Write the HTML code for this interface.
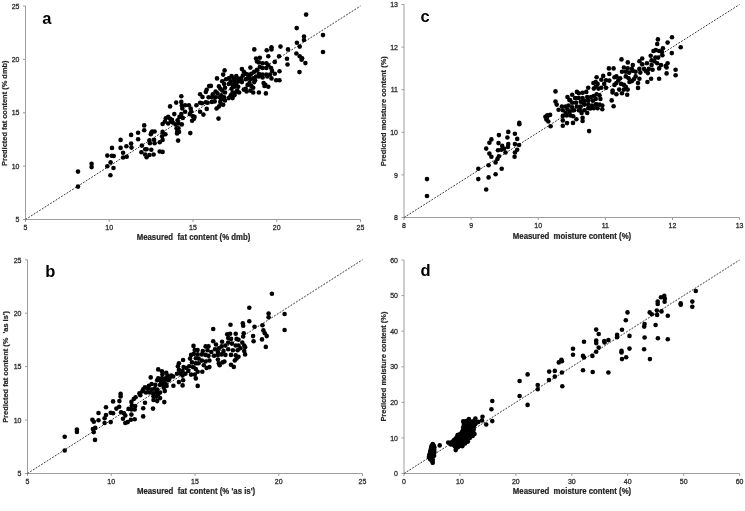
<!DOCTYPE html><html><head><meta charset="utf-8"><style>html,body{margin:0;padding:0;background:#fff;}svg{display:block;filter:blur(0.3px)}text{font-family:"Liberation Sans",sans-serif;}</style></head><body>
<svg width="745" height="511" viewBox="0 0 745 511">
<g><path d="M25.5 6.0V219.5H360.5" fill="none" stroke="#9d9d9d" stroke-width="1"/><path d="M23.0 219.5H25.5" stroke="#9d9d9d" stroke-width="1"/><text transform="translate(19.50 222.20) scale(0.92 1.0)" font-size="7.6" stroke="#303030" stroke-width="0.3" text-anchor="end" fill="#262626">5</text><path d="M23.0 166.1H25.5" stroke="#9d9d9d" stroke-width="1"/><text transform="translate(19.50 168.82) scale(0.92 1.0)" font-size="7.6" stroke="#303030" stroke-width="0.3" text-anchor="end" fill="#262626">10</text><path d="M23.0 112.8H25.5" stroke="#9d9d9d" stroke-width="1"/><text transform="translate(19.50 115.45) scale(0.92 1.0)" font-size="7.6" stroke="#303030" stroke-width="0.3" text-anchor="end" fill="#262626">15</text><path d="M23.0 59.4H25.5" stroke="#9d9d9d" stroke-width="1"/><text transform="translate(19.50 62.08) scale(0.92 1.0)" font-size="7.6" stroke="#303030" stroke-width="0.3" text-anchor="end" fill="#262626">20</text><path d="M23.0 6.0H25.5" stroke="#9d9d9d" stroke-width="1"/><text transform="translate(19.50 8.70) scale(0.92 1.0)" font-size="7.6" stroke="#303030" stroke-width="0.3" text-anchor="end" fill="#262626">25</text><path d="M25.5 219.5V222.0" stroke="#9d9d9d" stroke-width="1"/><text transform="translate(25.50 229.80) scale(0.92 1.0)" font-size="7.6" stroke="#303030" stroke-width="0.3" text-anchor="middle" fill="#262626">5</text><path d="M109.2 219.5V222.0" stroke="#9d9d9d" stroke-width="1"/><text transform="translate(109.25 229.80) scale(0.92 1.0)" font-size="7.6" stroke="#303030" stroke-width="0.3" text-anchor="middle" fill="#262626">10</text><path d="M193.0 219.5V222.0" stroke="#9d9d9d" stroke-width="1"/><text transform="translate(193.00 229.80) scale(0.92 1.0)" font-size="7.6" stroke="#303030" stroke-width="0.3" text-anchor="middle" fill="#262626">15</text><path d="M276.8 219.5V222.0" stroke="#9d9d9d" stroke-width="1"/><text transform="translate(276.75 229.80) scale(0.92 1.0)" font-size="7.6" stroke="#303030" stroke-width="0.3" text-anchor="middle" fill="#262626">20</text><path d="M360.5 219.5V222.0" stroke="#9d9d9d" stroke-width="1"/><text transform="translate(360.50 229.80) scale(0.92 1.0)" font-size="7.6" stroke="#303030" stroke-width="0.3" text-anchor="middle" fill="#262626">25</text><path d="M25.5 219.5L360.5 6.0" stroke="#3a3a3a" stroke-width="1" stroke-dasharray="1.9 1.35"/><circle cx="78.0" cy="186.6" r="2.3"/><circle cx="78.0" cy="171.6" r="2.3"/><circle cx="91.6" cy="163.8" r="2.3"/><circle cx="91.6" cy="167.1" r="2.3"/><circle cx="107.3" cy="155.6" r="2.3"/><circle cx="111.8" cy="155.8" r="2.3"/><circle cx="113.7" cy="156.0" r="2.3"/><circle cx="110.6" cy="162.4" r="2.3"/><circle cx="107.3" cy="166.2" r="2.3"/><circle cx="113.5" cy="168.0" r="2.3"/><circle cx="110.4" cy="175.3" r="2.3"/><circle cx="123.1" cy="152.8" r="2.3"/><circle cx="123.1" cy="157.5" r="2.3"/><circle cx="126.7" cy="156.7" r="2.3"/><circle cx="131.1" cy="134.9" r="2.3"/><circle cx="138.1" cy="132.8" r="2.3"/><circle cx="138.1" cy="139.3" r="2.3"/><circle cx="120.6" cy="139.9" r="2.3"/><circle cx="131.1" cy="143.6" r="2.3"/><circle cx="126.4" cy="146.2" r="2.3"/><circle cx="131.5" cy="147.6" r="2.3"/><circle cx="112.0" cy="147.9" r="2.3"/><circle cx="120.6" cy="147.9" r="2.3"/><circle cx="144.2" cy="125.4" r="2.3"/><circle cx="144.2" cy="130.3" r="2.3"/><circle cx="152.2" cy="131.5" r="2.3"/><circle cx="154.6" cy="131.5" r="2.3"/><circle cx="150.8" cy="134.3" r="2.3"/><circle cx="151.3" cy="132.9" r="2.3"/><circle cx="149.4" cy="140.4" r="2.3"/><circle cx="149.9" cy="143.2" r="2.3"/><circle cx="154.1" cy="139.9" r="2.3"/><circle cx="154.6" cy="143.2" r="2.3"/><circle cx="159.7" cy="142.3" r="2.3"/><circle cx="162.6" cy="139.9" r="2.3"/><circle cx="162.1" cy="136.2" r="2.3"/><circle cx="165.4" cy="134.3" r="2.3"/><circle cx="162.6" cy="131.9" r="2.3"/><circle cx="162.6" cy="124.0" r="2.3"/><circle cx="164.9" cy="121.6" r="2.3"/><circle cx="165.8" cy="118.3" r="2.3"/><circle cx="168.2" cy="116.9" r="2.3"/><circle cx="170.1" cy="118.8" r="2.3"/><circle cx="171.0" cy="121.6" r="2.3"/><circle cx="168.2" cy="123.5" r="2.3"/><circle cx="171.9" cy="119.7" r="2.3"/><circle cx="172.9" cy="122.6" r="2.3"/><circle cx="174.3" cy="114.1" r="2.3"/><circle cx="179.5" cy="116.9" r="2.3"/><circle cx="181.3" cy="114.1" r="2.3"/><circle cx="182.8" cy="117.9" r="2.3"/><circle cx="177.6" cy="120.2" r="2.3"/><circle cx="175.7" cy="124.4" r="2.3"/><circle cx="178.5" cy="123.5" r="2.3"/><circle cx="181.8" cy="124.4" r="2.3"/><circle cx="176.6" cy="128.2" r="2.3"/><circle cx="178.5" cy="128.2" r="2.3"/><circle cx="177.1" cy="131.9" r="2.3"/><circle cx="179.0" cy="131.9" r="2.3"/><circle cx="177.1" cy="133.4" r="2.3"/><circle cx="178.1" cy="140.6" r="2.3"/><circle cx="190.3" cy="133.1" r="2.3"/><circle cx="170.1" cy="106.4" r="2.3"/><circle cx="176.2" cy="102.6" r="2.3"/><circle cx="181.3" cy="101.9" r="2.3"/><circle cx="181.8" cy="105.6" r="2.3"/><circle cx="182.3" cy="108.5" r="2.3"/><circle cx="185.1" cy="105.2" r="2.3"/><circle cx="185.1" cy="111.7" r="2.3"/><circle cx="188.9" cy="105.2" r="2.3"/><circle cx="190.7" cy="108.5" r="2.3"/><circle cx="191.2" cy="111.3" r="2.3"/><circle cx="189.8" cy="114.1" r="2.3"/><circle cx="192.6" cy="116.0" r="2.3"/><circle cx="194.5" cy="116.9" r="2.3"/><circle cx="192.1" cy="120.7" r="2.3"/><circle cx="194.0" cy="118.8" r="2.3"/><circle cx="196.4" cy="105.2" r="2.3"/><circle cx="200.1" cy="102.8" r="2.3"/><circle cx="202.0" cy="103.3" r="2.3"/><circle cx="205.8" cy="102.3" r="2.3"/><circle cx="207.7" cy="102.8" r="2.3"/><circle cx="206.7" cy="108.9" r="2.3"/><circle cx="200.1" cy="111.7" r="2.3"/><circle cx="203.4" cy="114.6" r="2.3"/><circle cx="141.9" cy="145.6" r="2.3"/><circle cx="141.4" cy="152.2" r="2.3"/><circle cx="145.2" cy="149.3" r="2.3"/><circle cx="146.6" cy="149.3" r="2.3"/><circle cx="151.3" cy="149.8" r="2.3"/><circle cx="145.2" cy="154.5" r="2.3"/><circle cx="146.6" cy="157.3" r="2.3"/><circle cx="149.4" cy="155.0" r="2.3"/><circle cx="153.6" cy="154.5" r="2.3"/><circle cx="159.7" cy="151.5" r="2.3"/><circle cx="162.6" cy="151.9" r="2.3"/><circle cx="209.1" cy="86.1" r="2.3"/><circle cx="206.7" cy="89.8" r="2.3"/><circle cx="205.8" cy="92.0" r="2.3"/><circle cx="200.1" cy="94.3" r="2.3"/><circle cx="202.5" cy="97.0" r="2.3"/><circle cx="181.3" cy="96.2" r="2.3"/><circle cx="208.6" cy="97.2" r="2.3"/><circle cx="268.3" cy="56.3" r="2.3"/><circle cx="279.1" cy="56.3" r="2.3"/><circle cx="274.8" cy="61.9" r="2.3"/><circle cx="279.5" cy="71.3" r="2.3"/><circle cx="274.8" cy="73.7" r="2.3"/><circle cx="276.2" cy="80.2" r="2.3"/><circle cx="279.5" cy="80.2" r="2.3"/><circle cx="256.0" cy="58.6" r="2.3"/><circle cx="259.8" cy="57.7" r="2.3"/><circle cx="257.0" cy="61.5" r="2.3"/><circle cx="258.9" cy="62.4" r="2.3"/><circle cx="262.6" cy="63.3" r="2.3"/><circle cx="266.4" cy="63.3" r="2.3"/><circle cx="268.3" cy="65.2" r="2.3"/><circle cx="271.1" cy="68.0" r="2.3"/><circle cx="272.0" cy="70.9" r="2.3"/><circle cx="270.1" cy="74.6" r="2.3"/><circle cx="271.5" cy="78.4" r="2.3"/><circle cx="266.4" cy="68.0" r="2.3"/><circle cx="262.6" cy="68.0" r="2.3"/><circle cx="259.8" cy="67.1" r="2.3"/><circle cx="257.0" cy="69.9" r="2.3"/><circle cx="254.2" cy="71.8" r="2.3"/><circle cx="258.9" cy="73.7" r="2.3"/><circle cx="262.6" cy="74.6" r="2.3"/><circle cx="266.4" cy="74.6" r="2.3"/><circle cx="267.3" cy="76.5" r="2.3"/><circle cx="262.6" cy="77.4" r="2.3"/><circle cx="258.9" cy="76.5" r="2.3"/><circle cx="256.0" cy="76.5" r="2.3"/><circle cx="250.4" cy="67.6" r="2.3"/><circle cx="241.9" cy="69.0" r="2.3"/><circle cx="243.8" cy="71.8" r="2.3"/><circle cx="245.7" cy="73.7" r="2.3"/><circle cx="247.6" cy="74.6" r="2.3"/><circle cx="249.5" cy="75.6" r="2.3"/><circle cx="251.3" cy="73.7" r="2.3"/><circle cx="242.9" cy="75.6" r="2.3"/><circle cx="241.0" cy="78.4" r="2.3"/><circle cx="239.1" cy="80.2" r="2.3"/><circle cx="241.9" cy="82.1" r="2.3"/><circle cx="245.7" cy="79.3" r="2.3"/><circle cx="247.6" cy="78.4" r="2.3"/><circle cx="250.4" cy="79.3" r="2.3"/><circle cx="253.2" cy="78.4" r="2.3"/><circle cx="255.1" cy="80.2" r="2.3"/><circle cx="249.5" cy="83.1" r="2.3"/><circle cx="247.6" cy="84.9" r="2.3"/><circle cx="251.3" cy="85.9" r="2.3"/><circle cx="253.2" cy="87.8" r="2.3"/><circle cx="254.2" cy="82.1" r="2.3"/><circle cx="263.6" cy="83.1" r="2.3"/><circle cx="265.4" cy="84.9" r="2.3"/><circle cx="268.3" cy="86.8" r="2.3"/><circle cx="264.5" cy="85.9" r="2.3"/><circle cx="258.9" cy="92.5" r="2.3"/><circle cx="265.9" cy="93.4" r="2.3"/><circle cx="253.2" cy="92.5" r="2.3"/><circle cx="250.4" cy="90.6" r="2.3"/><circle cx="246.6" cy="91.5" r="2.3"/><circle cx="243.8" cy="89.6" r="2.3"/><circle cx="245.7" cy="88.7" r="2.3"/><circle cx="224.6" cy="70.4" r="2.3"/><circle cx="223.2" cy="74.6" r="2.3"/><circle cx="217.0" cy="78.4" r="2.3"/><circle cx="210.9" cy="85.9" r="2.3"/><circle cx="218.9" cy="86.4" r="2.3"/><circle cx="222.2" cy="81.2" r="2.3"/><circle cx="224.1" cy="84.0" r="2.3"/><circle cx="226.0" cy="79.3" r="2.3"/><circle cx="228.8" cy="78.4" r="2.3"/><circle cx="231.6" cy="76.0" r="2.3"/><circle cx="236.3" cy="76.0" r="2.3"/><circle cx="233.5" cy="78.4" r="2.3"/><circle cx="237.2" cy="78.4" r="2.3"/><circle cx="238.2" cy="81.2" r="2.3"/><circle cx="234.4" cy="81.2" r="2.3"/><circle cx="230.7" cy="81.2" r="2.3"/><circle cx="228.8" cy="84.0" r="2.3"/><circle cx="232.6" cy="84.9" r="2.3"/><circle cx="236.3" cy="84.0" r="2.3"/><circle cx="238.2" cy="86.8" r="2.3"/><circle cx="234.4" cy="86.8" r="2.3"/><circle cx="231.6" cy="88.7" r="2.3"/><circle cx="237.2" cy="90.6" r="2.3"/><circle cx="239.1" cy="92.5" r="2.3"/><circle cx="235.4" cy="92.5" r="2.3"/><circle cx="232.6" cy="92.5" r="2.3"/><circle cx="230.7" cy="95.3" r="2.3"/><circle cx="234.4" cy="95.3" r="2.3"/><circle cx="232.6" cy="98.1" r="2.3"/><circle cx="228.8" cy="98.1" r="2.3"/><circle cx="224.1" cy="97.2" r="2.3"/><circle cx="221.3" cy="95.3" r="2.3"/><circle cx="225.0" cy="92.5" r="2.3"/><circle cx="222.2" cy="90.6" r="2.3"/><circle cx="225.0" cy="87.8" r="2.3"/><circle cx="220.3" cy="88.7" r="2.3"/><circle cx="215.6" cy="91.5" r="2.3"/><circle cx="212.8" cy="94.3" r="2.3"/><circle cx="217.5" cy="93.4" r="2.3"/><circle cx="211.9" cy="97.2" r="2.3"/><circle cx="219.4" cy="97.2" r="2.3"/><circle cx="215.6" cy="97.2" r="2.3"/><circle cx="221.3" cy="99.0" r="2.3"/><circle cx="211.9" cy="101.9" r="2.3"/><circle cx="214.7" cy="101.4" r="2.3"/><circle cx="220.3" cy="101.9" r="2.3"/><circle cx="225.0" cy="100.5" r="2.3"/><circle cx="223.2" cy="104.7" r="2.3"/><circle cx="216.6" cy="108.5" r="2.3"/><circle cx="218.9" cy="106.6" r="2.3"/><circle cx="218.5" cy="118.6" r="2.3"/><circle cx="220.8" cy="104.2" r="2.3"/><circle cx="287.0" cy="58.8" r="2.3"/><circle cx="287.5" cy="64.5" r="2.3"/><circle cx="296.4" cy="53.5" r="2.3"/><circle cx="299.7" cy="56.3" r="2.3"/><circle cx="302.1" cy="58.2" r="2.3"/><circle cx="301.6" cy="59.8" r="2.3"/><circle cx="305.4" cy="63.1" r="2.3"/><circle cx="299.5" cy="72.1" r="2.3"/><circle cx="306.1" cy="14.6" r="2.3"/><circle cx="296.7" cy="28.1" r="2.3"/><circle cx="304.0" cy="36.5" r="2.3"/><circle cx="304.0" cy="40.0" r="2.3"/><circle cx="296.9" cy="42.8" r="2.3"/><circle cx="299.7" cy="46.6" r="2.3"/><circle cx="288.0" cy="49.4" r="2.3"/><circle cx="323.0" cy="35.1" r="2.3"/><circle cx="323.0" cy="52.0" r="2.3"/><circle cx="280.5" cy="46.6" r="2.3"/><circle cx="254.3" cy="49.4" r="2.3"/><circle cx="266.7" cy="50.3" r="2.3"/><circle cx="271.5" cy="47.3" r="2.3"/><circle cx="271.5" cy="49.4" r="2.3"/><text transform="translate(42.20 23.50) scale(1.0 1.0)" font-size="16.5" font-weight="bold" text-anchor="start" fill="#000">a</text><text transform="translate(193.50 240.30) scale(1.048 1.12)" font-size="7.45" font-weight="bold" stroke="#262626" stroke-width="0.2" text-anchor="middle" fill="#262626">Measured&#160; fat content (% dmb)</text><text transform="translate(7.4 113.2) rotate(-90) scale(1 1.08)" font-size="7.45" font-weight="bold" text-anchor="middle" fill="#262626" stroke="#262626" stroke-width="0.2">Predicted fat content (% dmb)</text></g>
<g><path d="M27.5 259.8V473.5H362.5" fill="none" stroke="#9d9d9d" stroke-width="1"/><path d="M25.0 473.5H27.5" stroke="#9d9d9d" stroke-width="1"/><text transform="translate(21.50 476.20) scale(0.92 1.0)" font-size="7.6" stroke="#303030" stroke-width="0.3" text-anchor="end" fill="#262626">5</text><path d="M25.0 420.1H27.5" stroke="#9d9d9d" stroke-width="1"/><text transform="translate(21.50 422.77) scale(0.92 1.0)" font-size="7.6" stroke="#303030" stroke-width="0.3" text-anchor="end" fill="#262626">10</text><path d="M25.0 366.6H27.5" stroke="#9d9d9d" stroke-width="1"/><text transform="translate(21.50 369.35) scale(0.92 1.0)" font-size="7.6" stroke="#303030" stroke-width="0.3" text-anchor="end" fill="#262626">15</text><path d="M25.0 313.2H27.5" stroke="#9d9d9d" stroke-width="1"/><text transform="translate(21.50 315.93) scale(0.92 1.0)" font-size="7.6" stroke="#303030" stroke-width="0.3" text-anchor="end" fill="#262626">20</text><path d="M25.0 259.8H27.5" stroke="#9d9d9d" stroke-width="1"/><text transform="translate(21.50 262.50) scale(0.92 1.0)" font-size="7.6" stroke="#303030" stroke-width="0.3" text-anchor="end" fill="#262626">25</text><path d="M27.5 473.5V476.0" stroke="#9d9d9d" stroke-width="1"/><text transform="translate(27.50 483.80) scale(0.92 1.0)" font-size="7.6" stroke="#303030" stroke-width="0.3" text-anchor="middle" fill="#262626">5</text><path d="M111.2 473.5V476.0" stroke="#9d9d9d" stroke-width="1"/><text transform="translate(111.25 483.80) scale(0.92 1.0)" font-size="7.6" stroke="#303030" stroke-width="0.3" text-anchor="middle" fill="#262626">10</text><path d="M195.0 473.5V476.0" stroke="#9d9d9d" stroke-width="1"/><text transform="translate(195.00 483.80) scale(0.92 1.0)" font-size="7.6" stroke="#303030" stroke-width="0.3" text-anchor="middle" fill="#262626">15</text><path d="M278.8 473.5V476.0" stroke="#9d9d9d" stroke-width="1"/><text transform="translate(278.75 483.80) scale(0.92 1.0)" font-size="7.6" stroke="#303030" stroke-width="0.3" text-anchor="middle" fill="#262626">20</text><path d="M362.5 473.5V476.0" stroke="#9d9d9d" stroke-width="1"/><text transform="translate(362.50 483.80) scale(0.92 1.0)" font-size="7.6" stroke="#303030" stroke-width="0.3" text-anchor="middle" fill="#262626">25</text><path d="M27.5 473.5L362.5 259.8" stroke="#3a3a3a" stroke-width="1" stroke-dasharray="1.9 1.35"/><circle cx="64.7" cy="450.5" r="2.3"/><circle cx="64.7" cy="436.8" r="2.3"/><circle cx="76.9" cy="429.6" r="2.3"/><circle cx="76.9" cy="431.9" r="2.3"/><circle cx="92.4" cy="419.7" r="2.3"/><circle cx="93.8" cy="421.8" r="2.3"/><circle cx="98.5" cy="420.2" r="2.3"/><circle cx="98.5" cy="413.0" r="2.3"/><circle cx="106.0" cy="407.3" r="2.3"/><circle cx="106.0" cy="415.0" r="2.3"/><circle cx="104.6" cy="418.3" r="2.3"/><circle cx="104.6" cy="423.0" r="2.3"/><circle cx="110.7" cy="422.1" r="2.3"/><circle cx="110.7" cy="412.7" r="2.3"/><circle cx="113.1" cy="413.2" r="2.3"/><circle cx="116.4" cy="408.6" r="2.3"/><circle cx="119.2" cy="406.8" r="2.3"/><circle cx="113.1" cy="401.4" r="2.3"/><circle cx="119.4" cy="401.1" r="2.3"/><circle cx="92.9" cy="429.1" r="2.3"/><circle cx="95.2" cy="427.7" r="2.3"/><circle cx="93.8" cy="432.1" r="2.3"/><circle cx="95.0" cy="439.9" r="2.3"/><circle cx="121.1" cy="412.2" r="2.3"/><circle cx="123.9" cy="413.2" r="2.3"/><circle cx="125.3" cy="415.5" r="2.3"/><circle cx="123.0" cy="418.8" r="2.3"/><circle cx="125.3" cy="423.0" r="2.3"/><circle cx="127.7" cy="422.1" r="2.3"/><circle cx="128.6" cy="408.9" r="2.3"/><circle cx="120.6" cy="393.9" r="2.3"/><circle cx="120.6" cy="396.4" r="2.3"/><circle cx="131.4" cy="401.9" r="2.3"/><circle cx="131.9" cy="405.6" r="2.3"/><circle cx="135.2" cy="406.1" r="2.3"/><circle cx="134.7" cy="409.4" r="2.3"/><circle cx="131.4" cy="409.4" r="2.3"/><circle cx="131.4" cy="414.6" r="2.3"/><circle cx="134.7" cy="419.3" r="2.3"/><circle cx="130.9" cy="419.7" r="2.3"/><circle cx="143.2" cy="408.3" r="2.3"/><circle cx="143.2" cy="416.4" r="2.3"/><circle cx="153.0" cy="408.6" r="2.3"/><circle cx="145.0" cy="402.8" r="2.3"/><circle cx="157.2" cy="401.1" r="2.3"/><circle cx="164.3" cy="402.1" r="2.3"/><circle cx="191.1" cy="354.9" r="2.3"/><circle cx="193.9" cy="353.9" r="2.3"/><circle cx="197.7" cy="354.4" r="2.3"/><circle cx="190.1" cy="358.6" r="2.3"/><circle cx="195.8" cy="358.2" r="2.3"/><circle cx="198.6" cy="358.6" r="2.3"/><circle cx="192.0" cy="362.4" r="2.3"/><circle cx="195.8" cy="363.3" r="2.3"/><circle cx="198.6" cy="363.3" r="2.3"/><circle cx="189.2" cy="366.2" r="2.3"/><circle cx="193.0" cy="367.1" r="2.3"/><circle cx="195.8" cy="369.0" r="2.3"/><circle cx="197.7" cy="371.8" r="2.3"/><circle cx="194.8" cy="374.6" r="2.3"/><circle cx="195.8" cy="378.4" r="2.3"/><circle cx="191.1" cy="374.6" r="2.3"/><circle cx="188.3" cy="370.9" r="2.3"/><circle cx="186.4" cy="368.0" r="2.3"/><circle cx="183.6" cy="367.1" r="2.3"/><circle cx="182.6" cy="370.9" r="2.3"/><circle cx="185.4" cy="373.7" r="2.3"/><circle cx="182.6" cy="375.6" r="2.3"/><circle cx="178.9" cy="363.3" r="2.3"/><circle cx="177.9" cy="366.2" r="2.3"/><circle cx="178.9" cy="369.9" r="2.3"/><circle cx="177.0" cy="373.7" r="2.3"/><circle cx="180.7" cy="373.7" r="2.3"/><circle cx="183.1" cy="360.0" r="2.3"/><circle cx="197.7" cy="385.9" r="2.3"/><circle cx="178.9" cy="382.1" r="2.3"/><circle cx="183.1" cy="380.2" r="2.3"/><circle cx="182.6" cy="385.4" r="2.3"/><circle cx="173.4" cy="385.7" r="2.3"/><circle cx="158.2" cy="369.4" r="2.3"/><circle cx="161.9" cy="371.3" r="2.3"/><circle cx="166.2" cy="372.7" r="2.3"/><circle cx="162.4" cy="374.6" r="2.3"/><circle cx="167.6" cy="375.6" r="2.3"/><circle cx="171.3" cy="375.6" r="2.3"/><circle cx="173.2" cy="376.5" r="2.3"/><circle cx="169.5" cy="378.4" r="2.3"/><circle cx="165.7" cy="378.4" r="2.3"/><circle cx="161.9" cy="378.4" r="2.3"/><circle cx="158.2" cy="378.4" r="2.3"/><circle cx="150.7" cy="377.4" r="2.3"/><circle cx="157.2" cy="380.2" r="2.3"/><circle cx="161.0" cy="381.2" r="2.3"/><circle cx="164.8" cy="380.2" r="2.3"/><circle cx="168.5" cy="380.2" r="2.3"/><circle cx="165.7" cy="384.0" r="2.3"/><circle cx="162.9" cy="384.0" r="2.3"/><circle cx="160.1" cy="384.9" r="2.3"/><circle cx="166.6" cy="385.9" r="2.3"/><circle cx="163.8" cy="387.8" r="2.3"/><circle cx="164.8" cy="391.1" r="2.3"/><circle cx="160.1" cy="392.5" r="2.3"/><circle cx="151.6" cy="384.0" r="2.3"/><circle cx="148.8" cy="385.9" r="2.3"/><circle cx="155.4" cy="384.9" r="2.3"/><circle cx="145.0" cy="387.3" r="2.3"/><circle cx="143.2" cy="389.2" r="2.3"/><circle cx="147.9" cy="388.7" r="2.3"/><circle cx="151.6" cy="389.6" r="2.3"/><circle cx="154.4" cy="388.7" r="2.3"/><circle cx="157.2" cy="389.6" r="2.3"/><circle cx="156.3" cy="392.5" r="2.3"/><circle cx="153.5" cy="393.4" r="2.3"/><circle cx="149.7" cy="392.5" r="2.3"/><circle cx="146.0" cy="392.5" r="2.3"/><circle cx="142.2" cy="391.5" r="2.3"/><circle cx="139.4" cy="393.4" r="2.3"/><circle cx="140.3" cy="395.3" r="2.3"/><circle cx="135.6" cy="397.2" r="2.3"/><circle cx="133.8" cy="399.0" r="2.3"/><circle cx="153.5" cy="396.2" r="2.3"/><circle cx="156.3" cy="396.7" r="2.3"/><circle cx="160.1" cy="398.1" r="2.3"/><circle cx="158.2" cy="394.3" r="2.3"/><circle cx="153.5" cy="400.0" r="2.3"/><circle cx="202.3" cy="371.8" r="2.3"/><circle cx="201.9" cy="354.4" r="2.3"/><circle cx="205.6" cy="354.9" r="2.3"/><circle cx="208.5" cy="355.8" r="2.3"/><circle cx="201.9" cy="360.5" r="2.3"/><circle cx="205.6" cy="361.5" r="2.3"/><circle cx="209.4" cy="360.5" r="2.3"/><circle cx="203.8" cy="365.2" r="2.3"/><circle cx="206.6" cy="368.0" r="2.3"/><circle cx="209.4" cy="367.1" r="2.3"/><circle cx="214.1" cy="355.8" r="2.3"/><circle cx="217.9" cy="354.9" r="2.3"/><circle cx="221.6" cy="354.4" r="2.3"/><circle cx="225.4" cy="354.9" r="2.3"/><circle cx="217.9" cy="359.6" r="2.3"/><circle cx="218.8" cy="363.3" r="2.3"/><circle cx="222.6" cy="362.4" r="2.3"/><circle cx="224.4" cy="361.5" r="2.3"/><circle cx="219.7" cy="365.2" r="2.3"/><circle cx="231.0" cy="364.7" r="2.3"/><circle cx="233.8" cy="366.9" r="2.3"/><circle cx="234.8" cy="360.5" r="2.3"/><circle cx="236.6" cy="358.6" r="2.3"/><circle cx="238.5" cy="356.8" r="2.3"/><circle cx="235.7" cy="355.3" r="2.3"/><circle cx="231.0" cy="354.9" r="2.3"/><circle cx="245.1" cy="354.4" r="2.3"/><circle cx="249.3" cy="307.7" r="2.3"/><circle cx="268.6" cy="313.5" r="2.3"/><circle cx="268.6" cy="317.3" r="2.3"/><circle cx="249.3" cy="321.2" r="2.3"/><circle cx="242.8" cy="323.4" r="2.3"/><circle cx="243.2" cy="325.7" r="2.3"/><circle cx="254.5" cy="326.7" r="2.3"/><circle cx="262.5" cy="325.3" r="2.3"/><circle cx="230.5" cy="324.8" r="2.3"/><circle cx="213.2" cy="329.0" r="2.3"/><circle cx="263.4" cy="330.4" r="2.3"/><circle cx="264.8" cy="333.2" r="2.3"/><circle cx="266.7" cy="336.1" r="2.3"/><circle cx="253.1" cy="336.1" r="2.3"/><circle cx="262.0" cy="339.4" r="2.3"/><circle cx="253.6" cy="341.2" r="2.3"/><circle cx="265.8" cy="346.9" r="2.3"/><circle cx="243.7" cy="333.2" r="2.3"/><circle cx="243.2" cy="336.5" r="2.3"/><circle cx="227.2" cy="334.2" r="2.3"/><circle cx="230.1" cy="333.7" r="2.3"/><circle cx="235.7" cy="333.7" r="2.3"/><circle cx="228.2" cy="337.9" r="2.3"/><circle cx="231.0" cy="338.9" r="2.3"/><circle cx="236.6" cy="338.9" r="2.3"/><circle cx="238.5" cy="339.8" r="2.3"/><circle cx="213.2" cy="341.2" r="2.3"/><circle cx="222.1" cy="341.7" r="2.3"/><circle cx="216.0" cy="344.5" r="2.3"/><circle cx="205.6" cy="346.4" r="2.3"/><circle cx="208.5" cy="346.4" r="2.3"/><circle cx="202.8" cy="351.1" r="2.3"/><circle cx="207.5" cy="350.2" r="2.3"/><circle cx="215.0" cy="349.2" r="2.3"/><circle cx="218.8" cy="348.3" r="2.3"/><circle cx="221.6" cy="346.4" r="2.3"/><circle cx="225.4" cy="345.5" r="2.3"/><circle cx="228.2" cy="342.6" r="2.3"/><circle cx="231.9" cy="343.6" r="2.3"/><circle cx="235.7" cy="345.5" r="2.3"/><circle cx="238.5" cy="345.5" r="2.3"/><circle cx="242.3" cy="342.6" r="2.3"/><circle cx="244.2" cy="345.5" r="2.3"/><circle cx="245.1" cy="347.3" r="2.3"/><circle cx="240.4" cy="348.3" r="2.3"/><circle cx="244.2" cy="351.1" r="2.3"/><circle cx="223.5" cy="351.1" r="2.3"/><circle cx="228.2" cy="349.2" r="2.3"/><circle cx="232.9" cy="350.2" r="2.3"/><circle cx="237.6" cy="350.2" r="2.3"/><circle cx="217.9" cy="352.0" r="2.3"/><circle cx="211.3" cy="352.0" r="2.3"/><circle cx="284.6" cy="314.0" r="2.3"/><circle cx="284.6" cy="330.0" r="2.3"/><circle cx="271.9" cy="293.8" r="2.3"/><circle cx="193.5" cy="345.9" r="2.3"/><circle cx="197.6" cy="350.0" r="2.3"/><circle cx="194.7" cy="350.0" r="2.3"/><text transform="translate(45.30 276.50) scale(1.0 1.0)" font-size="16.5" font-weight="bold" text-anchor="start" fill="#000">b</text><text transform="translate(196.00 493.80) scale(1.048 1.12)" font-size="7.45" font-weight="bold" stroke="#262626" stroke-width="0.2" text-anchor="middle" fill="#262626">Measured&#160; fat content (% 'as is')</text><text transform="translate(8.4 366.9) rotate(-90) scale(1 1.08)" font-size="7.45" font-weight="bold" text-anchor="middle" fill="#262626" stroke="#262626" stroke-width="0.2">Predicted fat content (% &#160;'as is')</text></g>
<g><path d="M404.0 4.5V217.5H739.6" fill="none" stroke="#9d9d9d" stroke-width="1"/><path d="M401.5 217.5H404.0" stroke="#9d9d9d" stroke-width="1"/><text transform="translate(398.00 220.20) scale(0.92 1.0)" font-size="7.6" stroke="#303030" stroke-width="0.3" text-anchor="end" fill="#262626">8</text><path d="M401.5 174.9H404.0" stroke="#9d9d9d" stroke-width="1"/><text transform="translate(398.00 177.60) scale(0.92 1.0)" font-size="7.6" stroke="#303030" stroke-width="0.3" text-anchor="end" fill="#262626">9</text><path d="M401.5 132.3H404.0" stroke="#9d9d9d" stroke-width="1"/><text transform="translate(398.00 135.00) scale(0.92 1.0)" font-size="7.6" stroke="#303030" stroke-width="0.3" text-anchor="end" fill="#262626">10</text><path d="M401.5 89.7H404.0" stroke="#9d9d9d" stroke-width="1"/><text transform="translate(398.00 92.40) scale(0.92 1.0)" font-size="7.6" stroke="#303030" stroke-width="0.3" text-anchor="end" fill="#262626">11</text><path d="M401.5 47.1H404.0" stroke="#9d9d9d" stroke-width="1"/><text transform="translate(398.00 49.80) scale(0.92 1.0)" font-size="7.6" stroke="#303030" stroke-width="0.3" text-anchor="end" fill="#262626">12</text><path d="M401.5 4.5H404.0" stroke="#9d9d9d" stroke-width="1"/><text transform="translate(398.00 7.20) scale(0.92 1.0)" font-size="7.6" stroke="#303030" stroke-width="0.3" text-anchor="end" fill="#262626">13</text><path d="M404.0 217.5V220.0" stroke="#9d9d9d" stroke-width="1"/><text transform="translate(404.00 227.80) scale(0.92 1.0)" font-size="7.6" stroke="#303030" stroke-width="0.3" text-anchor="middle" fill="#262626">8</text><path d="M471.1 217.5V220.0" stroke="#9d9d9d" stroke-width="1"/><text transform="translate(471.12 227.80) scale(0.92 1.0)" font-size="7.6" stroke="#303030" stroke-width="0.3" text-anchor="middle" fill="#262626">9</text><path d="M538.2 217.5V220.0" stroke="#9d9d9d" stroke-width="1"/><text transform="translate(538.24 227.80) scale(0.92 1.0)" font-size="7.6" stroke="#303030" stroke-width="0.3" text-anchor="middle" fill="#262626">10</text><path d="M605.4 217.5V220.0" stroke="#9d9d9d" stroke-width="1"/><text transform="translate(605.36 227.80) scale(0.92 1.0)" font-size="7.6" stroke="#303030" stroke-width="0.3" text-anchor="middle" fill="#262626">11</text><path d="M672.5 217.5V220.0" stroke="#9d9d9d" stroke-width="1"/><text transform="translate(672.48 227.80) scale(0.92 1.0)" font-size="7.6" stroke="#303030" stroke-width="0.3" text-anchor="middle" fill="#262626">12</text><path d="M739.6 217.5V220.0" stroke="#9d9d9d" stroke-width="1"/><text transform="translate(739.60 227.80) scale(0.92 1.0)" font-size="7.6" stroke="#303030" stroke-width="0.3" text-anchor="middle" fill="#262626">13</text><path d="M404.0 217.5L739.6 4.5" stroke="#3a3a3a" stroke-width="1" stroke-dasharray="1.9 1.35"/><circle cx="427.0" cy="179.1" r="2.3"/><circle cx="427.0" cy="196.0" r="2.3"/><circle cx="478.3" cy="168.8" r="2.3"/><circle cx="478.3" cy="179.1" r="2.3"/><circle cx="486.2" cy="189.5" r="2.3"/><circle cx="488.6" cy="165.2" r="2.3"/><circle cx="488.6" cy="177.4" r="2.3"/><circle cx="486.2" cy="148.6" r="2.3"/><circle cx="491.4" cy="139.4" r="2.3"/><circle cx="491.4" cy="156.8" r="2.3"/><circle cx="498.9" cy="135.1" r="2.3"/><circle cx="498.5" cy="143.1" r="2.3"/><circle cx="498.0" cy="150.2" r="2.3"/><circle cx="502.2" cy="145.9" r="2.3"/><circle cx="504.1" cy="148.8" r="2.3"/><circle cx="501.3" cy="149.7" r="2.3"/><circle cx="505.5" cy="152.5" r="2.3"/><circle cx="507.9" cy="146.9" r="2.3"/><circle cx="508.3" cy="144.1" r="2.3"/><circle cx="507.4" cy="137.5" r="2.3"/><circle cx="508.3" cy="131.9" r="2.3"/><circle cx="514.9" cy="133.7" r="2.3"/><circle cx="517.2" cy="138.9" r="2.3"/><circle cx="514.9" cy="144.1" r="2.3"/><circle cx="519.1" cy="145.0" r="2.3"/><circle cx="517.2" cy="149.7" r="2.3"/><circle cx="514.9" cy="152.5" r="2.3"/><circle cx="514.6" cy="156.8" r="2.3"/><circle cx="498.9" cy="156.3" r="2.3"/><circle cx="519.3" cy="122.9" r="2.3"/><circle cx="519.3" cy="124.3" r="2.3"/><circle cx="545.4" cy="116.8" r="2.3"/><circle cx="547.3" cy="115.4" r="2.3"/><circle cx="550.1" cy="114.9" r="2.3"/><circle cx="546.4" cy="119.6" r="2.3"/><circle cx="548.3" cy="121.5" r="2.3"/><circle cx="550.6" cy="126.2" r="2.3"/><circle cx="495.6" cy="162.4" r="2.3"/><circle cx="501.7" cy="168.7" r="2.3"/><circle cx="495.6" cy="174.2" r="2.3"/><circle cx="608.9" cy="68.4" r="2.3"/><circle cx="613.6" cy="68.4" r="2.3"/><circle cx="623.9" cy="67.5" r="2.3"/><circle cx="627.7" cy="68.4" r="2.3"/><circle cx="622.0" cy="71.7" r="2.3"/><circle cx="625.8" cy="71.7" r="2.3"/><circle cx="629.1" cy="72.6" r="2.3"/><circle cx="625.8" cy="76.4" r="2.3"/><circle cx="628.6" cy="78.3" r="2.3"/><circle cx="629.5" cy="82.0" r="2.3"/><circle cx="609.3" cy="74.0" r="2.3"/><circle cx="596.6" cy="77.3" r="2.3"/><circle cx="603.2" cy="75.9" r="2.3"/><circle cx="601.3" cy="79.7" r="2.3"/><circle cx="606.0" cy="80.2" r="2.3"/><circle cx="609.3" cy="80.6" r="2.3"/><circle cx="604.2" cy="83.9" r="2.3"/><circle cx="606.0" cy="87.7" r="2.3"/><circle cx="614.5" cy="77.3" r="2.3"/><circle cx="616.4" cy="76.4" r="2.3"/><circle cx="618.3" cy="80.2" r="2.3"/><circle cx="620.1" cy="78.3" r="2.3"/><circle cx="616.4" cy="83.0" r="2.3"/><circle cx="614.5" cy="84.9" r="2.3"/><circle cx="621.1" cy="83.9" r="2.3"/><circle cx="623.9" cy="84.9" r="2.3"/><circle cx="625.8" cy="86.7" r="2.3"/><circle cx="627.7" cy="89.6" r="2.3"/><circle cx="623.9" cy="89.6" r="2.3"/><circle cx="619.2" cy="89.6" r="2.3"/><circle cx="612.6" cy="90.5" r="2.3"/><circle cx="612.6" cy="92.4" r="2.3"/><circle cx="616.4" cy="94.2" r="2.3"/><circle cx="622.0" cy="93.3" r="2.3"/><circle cx="627.2" cy="94.7" r="2.3"/><circle cx="593.4" cy="83.0" r="2.3"/><circle cx="595.7" cy="82.0" r="2.3"/><circle cx="597.6" cy="83.9" r="2.3"/><circle cx="595.7" cy="86.7" r="2.3"/><circle cx="593.8" cy="88.6" r="2.3"/><circle cx="598.5" cy="88.6" r="2.3"/><circle cx="601.3" cy="87.7" r="2.3"/><circle cx="588.2" cy="87.7" r="2.3"/><circle cx="586.3" cy="91.9" r="2.3"/><circle cx="582.6" cy="92.8" r="2.3"/><circle cx="576.9" cy="91.9" r="2.3"/><circle cx="578.8" cy="93.3" r="2.3"/><circle cx="572.2" cy="94.7" r="2.3"/><circle cx="567.5" cy="97.1" r="2.3"/><circle cx="569.4" cy="99.9" r="2.3"/><circle cx="575.0" cy="98.0" r="2.3"/><circle cx="578.8" cy="98.0" r="2.3"/><circle cx="582.6" cy="98.0" r="2.3"/><circle cx="587.2" cy="97.1" r="2.3"/><circle cx="591.0" cy="97.1" r="2.3"/><circle cx="593.8" cy="96.1" r="2.3"/><circle cx="596.6" cy="94.2" r="2.3"/><circle cx="599.5" cy="95.2" r="2.3"/><circle cx="600.4" cy="98.9" r="2.3"/><circle cx="595.7" cy="98.9" r="2.3"/><circle cx="592.9" cy="100.8" r="2.3"/><circle cx="588.2" cy="100.8" r="2.3"/><circle cx="584.4" cy="100.8" r="2.3"/><circle cx="580.7" cy="101.8" r="2.3"/><circle cx="576.0" cy="102.7" r="2.3"/><circle cx="572.2" cy="102.7" r="2.3"/><circle cx="568.5" cy="105.5" r="2.3"/><circle cx="565.6" cy="106.5" r="2.3"/><circle cx="561.9" cy="106.5" r="2.3"/><circle cx="562.8" cy="110.2" r="2.3"/><circle cx="567.5" cy="109.3" r="2.3"/><circle cx="572.2" cy="107.4" r="2.3"/><circle cx="576.9" cy="106.5" r="2.3"/><circle cx="580.7" cy="106.5" r="2.3"/><circle cx="584.4" cy="104.6" r="2.3"/><circle cx="588.2" cy="104.6" r="2.3"/><circle cx="591.9" cy="105.5" r="2.3"/><circle cx="595.7" cy="104.6" r="2.3"/><circle cx="599.5" cy="104.6" r="2.3"/><circle cx="602.3" cy="105.5" r="2.3"/><circle cx="602.3" cy="109.3" r="2.3"/><circle cx="597.6" cy="108.3" r="2.3"/><circle cx="593.8" cy="108.3" r="2.3"/><circle cx="588.2" cy="108.3" r="2.3"/><circle cx="584.4" cy="110.2" r="2.3"/><circle cx="578.8" cy="110.2" r="2.3"/><circle cx="574.1" cy="110.2" r="2.3"/><circle cx="569.4" cy="112.1" r="2.3"/><circle cx="565.6" cy="113.0" r="2.3"/><circle cx="581.6" cy="113.0" r="2.3"/><circle cx="587.2" cy="113.0" r="2.3"/><circle cx="611.7" cy="100.4" r="2.3"/><circle cx="613.6" cy="106.3" r="2.3"/><circle cx="562.8" cy="115.9" r="2.3"/><circle cx="566.6" cy="115.4" r="2.3"/><circle cx="570.3" cy="115.4" r="2.3"/><circle cx="573.2" cy="116.3" r="2.3"/><circle cx="562.8" cy="120.4" r="2.3"/><circle cx="567.0" cy="123.1" r="2.3"/><circle cx="573.0" cy="122.9" r="2.3"/><circle cx="576.4" cy="119.2" r="2.3"/><circle cx="582.6" cy="117.8" r="2.3"/><circle cx="582.6" cy="121.0" r="2.3"/><circle cx="589.1" cy="131.1" r="2.3"/><circle cx="562.8" cy="125.7" r="2.3"/><circle cx="555.5" cy="91.4" r="2.3"/><circle cx="555.5" cy="101.6" r="2.3"/><circle cx="556.7" cy="104.6" r="2.3"/><circle cx="558.6" cy="109.8" r="2.3"/><circle cx="675.6" cy="69.8" r="2.3"/><circle cx="675.6" cy="75.3" r="2.3"/><circle cx="666.6" cy="73.4" r="2.3"/><circle cx="659.1" cy="78.7" r="2.3"/><circle cx="651.1" cy="78.7" r="2.3"/><circle cx="647.4" cy="82.0" r="2.3"/><circle cx="638.0" cy="83.0" r="2.3"/><circle cx="638.0" cy="87.9" r="2.3"/><circle cx="639.4" cy="78.7" r="2.3"/><circle cx="635.6" cy="76.4" r="2.3"/><circle cx="633.8" cy="79.2" r="2.3"/><circle cx="631.9" cy="81.1" r="2.3"/><circle cx="632.8" cy="70.8" r="2.3"/><circle cx="635.6" cy="71.7" r="2.3"/><circle cx="631.9" cy="68.9" r="2.3"/><circle cx="639.4" cy="68.9" r="2.3"/><circle cx="644.1" cy="68.9" r="2.3"/><circle cx="648.8" cy="68.9" r="2.3"/><circle cx="652.6" cy="69.8" r="2.3"/><circle cx="647.9" cy="73.1" r="2.3"/><circle cx="646.0" cy="71.2" r="2.3"/><circle cx="659.1" cy="68.4" r="2.3"/><circle cx="666.6" cy="67.5" r="2.3"/><circle cx="640.3" cy="72.6" r="2.3"/><circle cx="672.0" cy="37.2" r="2.3"/><circle cx="657.9" cy="39.4" r="2.3"/><circle cx="657.2" cy="44.0" r="2.3"/><circle cx="667.6" cy="42.6" r="2.3"/><circle cx="680.7" cy="47.2" r="2.3"/><circle cx="671.8" cy="53.1" r="2.3"/><circle cx="662.9" cy="48.2" r="2.3"/><circle cx="655.8" cy="50.1" r="2.3"/><circle cx="653.5" cy="51.0" r="2.3"/><circle cx="659.1" cy="51.0" r="2.3"/><circle cx="661.9" cy="51.9" r="2.3"/><circle cx="662.4" cy="55.2" r="2.3"/><circle cx="650.7" cy="55.7" r="2.3"/><circle cx="655.4" cy="57.6" r="2.3"/><circle cx="658.2" cy="57.6" r="2.3"/><circle cx="651.6" cy="60.4" r="2.3"/><circle cx="654.4" cy="61.3" r="2.3"/><circle cx="642.2" cy="58.5" r="2.3"/><circle cx="639.4" cy="61.3" r="2.3"/><circle cx="646.9" cy="63.2" r="2.3"/><circle cx="657.2" cy="63.2" r="2.3"/><circle cx="667.6" cy="63.2" r="2.3"/><circle cx="632.8" cy="65.1" r="2.3"/><circle cx="642.2" cy="64.2" r="2.3"/><circle cx="651.6" cy="65.1" r="2.3"/><circle cx="661.0" cy="65.1" r="2.3"/><circle cx="665.7" cy="66.0" r="2.3"/><circle cx="621.5" cy="59.4" r="2.3"/><circle cx="627.8" cy="62.4" r="2.3"/><circle cx="547.0" cy="117.4" r="2.3"/><circle cx="570.2" cy="100.3" r="2.3"/><circle cx="576.2" cy="98.3" r="2.3"/><circle cx="582.3" cy="102.3" r="2.3"/><circle cx="588.3" cy="100.3" r="2.3"/><circle cx="580.3" cy="110.4" r="2.3"/><circle cx="572.2" cy="110.4" r="2.3"/><circle cx="590.3" cy="108.4" r="2.3"/><circle cx="596.4" cy="104.4" r="2.3"/><circle cx="489.4" cy="142.7" r="2.3"/><circle cx="489.4" cy="153.6" r="2.3"/><circle cx="497.5" cy="158.9" r="2.3"/><text transform="translate(420.60 21.70) scale(1.0 1.0)" font-size="16.5" font-weight="bold" text-anchor="start" fill="#000">c</text><text transform="translate(572.00 238.90) scale(1.048 1.12)" font-size="7.45" font-weight="bold" stroke="#262626" stroke-width="0.2" text-anchor="middle" fill="#262626">Measured&#160; moisture content (%)</text><text transform="translate(386.4 111.3) rotate(-90) scale(1 1.08)" font-size="7.45" font-weight="bold" text-anchor="middle" fill="#262626" stroke="#262626" stroke-width="0.2">Predicted moisture content (%)</text></g>
<g><path d="M404.0 260.0V473.5H739.6" fill="none" stroke="#9d9d9d" stroke-width="1"/><path d="M401.5 473.5H404.0" stroke="#9d9d9d" stroke-width="1"/><text transform="translate(398.00 476.20) scale(0.92 1.0)" font-size="7.6" stroke="#303030" stroke-width="0.3" text-anchor="end" fill="#262626">0</text><path d="M401.5 437.9H404.0" stroke="#9d9d9d" stroke-width="1"/><text transform="translate(398.00 440.62) scale(0.92 1.0)" font-size="7.6" stroke="#303030" stroke-width="0.3" text-anchor="end" fill="#262626">10</text><path d="M401.5 402.3H404.0" stroke="#9d9d9d" stroke-width="1"/><text transform="translate(398.00 405.03) scale(0.92 1.0)" font-size="7.6" stroke="#303030" stroke-width="0.3" text-anchor="end" fill="#262626">20</text><path d="M401.5 366.8H404.0" stroke="#9d9d9d" stroke-width="1"/><text transform="translate(398.00 369.45) scale(0.92 1.0)" font-size="7.6" stroke="#303030" stroke-width="0.3" text-anchor="end" fill="#262626">30</text><path d="M401.5 331.2H404.0" stroke="#9d9d9d" stroke-width="1"/><text transform="translate(398.00 333.87) scale(0.92 1.0)" font-size="7.6" stroke="#303030" stroke-width="0.3" text-anchor="end" fill="#262626">40</text><path d="M401.5 295.6H404.0" stroke="#9d9d9d" stroke-width="1"/><text transform="translate(398.00 298.28) scale(0.92 1.0)" font-size="7.6" stroke="#303030" stroke-width="0.3" text-anchor="end" fill="#262626">50</text><path d="M401.5 260.0H404.0" stroke="#9d9d9d" stroke-width="1"/><text transform="translate(398.00 262.70) scale(0.92 1.0)" font-size="7.6" stroke="#303030" stroke-width="0.3" text-anchor="end" fill="#262626">60</text><path d="M404.0 473.5V476.0" stroke="#9d9d9d" stroke-width="1"/><text transform="translate(404.00 483.80) scale(0.92 1.0)" font-size="7.6" stroke="#303030" stroke-width="0.3" text-anchor="middle" fill="#262626">0</text><path d="M459.9 473.5V476.0" stroke="#9d9d9d" stroke-width="1"/><text transform="translate(459.93 483.80) scale(0.92 1.0)" font-size="7.6" stroke="#303030" stroke-width="0.3" text-anchor="middle" fill="#262626">10</text><path d="M515.9 473.5V476.0" stroke="#9d9d9d" stroke-width="1"/><text transform="translate(515.87 483.80) scale(0.92 1.0)" font-size="7.6" stroke="#303030" stroke-width="0.3" text-anchor="middle" fill="#262626">20</text><path d="M571.8 473.5V476.0" stroke="#9d9d9d" stroke-width="1"/><text transform="translate(571.80 483.80) scale(0.92 1.0)" font-size="7.6" stroke="#303030" stroke-width="0.3" text-anchor="middle" fill="#262626">30</text><path d="M627.7 473.5V476.0" stroke="#9d9d9d" stroke-width="1"/><text transform="translate(627.73 483.80) scale(0.92 1.0)" font-size="7.6" stroke="#303030" stroke-width="0.3" text-anchor="middle" fill="#262626">40</text><path d="M683.7 473.5V476.0" stroke="#9d9d9d" stroke-width="1"/><text transform="translate(683.67 483.80) scale(0.92 1.0)" font-size="7.6" stroke="#303030" stroke-width="0.3" text-anchor="middle" fill="#262626">50</text><path d="M739.6 473.5V476.0" stroke="#9d9d9d" stroke-width="1"/><text transform="translate(739.60 483.80) scale(0.92 1.0)" font-size="7.6" stroke="#303030" stroke-width="0.3" text-anchor="middle" fill="#262626">60</text><path d="M404.0 473.5L739.6 260.0" stroke="#3a3a3a" stroke-width="1" stroke-dasharray="1.9 1.35"/><path d="M462.4 420.2L465.8 418.9L469.3 419.7L475.3 418.9L477.9 420.6L477.9 424.0L476.1 426.2L475.3 429.2L475.3 434.4L473.6 437.0L470.1 439.5L466.7 443.0L464.1 446.4L461.5 447.3L455.5 451.2L454.2 449.0L451.2 445.6L447.7 443.8L447.3 442.1L452.0 439.5L455.5 435.2L458.1 432.7L461.1 430.5L461.5 427.5L461.9 422.3Z"/><path d="M430.0 443.9L432.9 442.4L435.6 443.9L436.4 446.8L436.4 452.7L435.9 455.6L434.1 458.6L434.7 461.5L434.1 464.4L431.7 464.7L430.6 462.7L428.2 460.3L427.0 458.0L427.6 454.4L428.2 450.9L428.8 448.0Z"/><circle cx="432.7" cy="444.0" r="2.3"/><circle cx="431.7" cy="446.3" r="2.3"/><circle cx="434.1" cy="447.2" r="2.3"/><circle cx="431.3" cy="449.1" r="2.3"/><circle cx="433.6" cy="450.1" r="2.3"/><circle cx="430.3" cy="451.9" r="2.3"/><circle cx="434.1" cy="452.4" r="2.3"/><circle cx="429.4" cy="454.8" r="2.3"/><circle cx="432.2" cy="454.8" r="2.3"/><circle cx="428.9" cy="457.1" r="2.3"/><circle cx="431.7" cy="457.1" r="2.3"/><circle cx="434.1" cy="455.7" r="2.3"/><circle cx="430.3" cy="459.0" r="2.3"/><circle cx="432.7" cy="459.5" r="2.3"/><circle cx="432.7" cy="462.8" r="2.3"/><circle cx="439.7" cy="445.4" r="2.3"/><circle cx="448.2" cy="442.6" r="2.3"/><circle cx="451.0" cy="444.4" r="2.3"/><circle cx="453.8" cy="440.2" r="2.3"/><circle cx="455.7" cy="443.5" r="2.3"/><circle cx="455.7" cy="450.1" r="2.3"/><circle cx="457.6" cy="447.2" r="2.3"/><circle cx="457.6" cy="435.0" r="2.3"/><circle cx="459.5" cy="438.8" r="2.3"/><circle cx="460.4" cy="434.1" r="2.3"/><circle cx="462.3" cy="436.9" r="2.3"/><circle cx="462.3" cy="431.3" r="2.3"/><circle cx="463.2" cy="427.5" r="2.3"/><circle cx="464.2" cy="423.8" r="2.3"/><circle cx="463.2" cy="421.4" r="2.3"/><circle cx="467.0" cy="420.9" r="2.3"/><circle cx="469.8" cy="421.4" r="2.3"/><circle cx="470.7" cy="423.8" r="2.3"/><circle cx="467.0" cy="425.6" r="2.3"/><circle cx="467.9" cy="429.4" r="2.3"/><circle cx="470.7" cy="428.5" r="2.3"/><circle cx="473.6" cy="429.4" r="2.3"/><circle cx="474.5" cy="434.1" r="2.3"/><circle cx="472.6" cy="436.0" r="2.3"/><circle cx="469.8" cy="437.9" r="2.3"/><circle cx="467.0" cy="434.1" r="2.3"/><circle cx="465.1" cy="438.8" r="2.3"/><circle cx="467.9" cy="441.6" r="2.3"/><circle cx="465.1" cy="443.5" r="2.3"/><circle cx="462.3" cy="446.3" r="2.3"/><circle cx="460.4" cy="442.6" r="2.3"/><circle cx="463.2" cy="441.6" r="2.3"/><circle cx="464.2" cy="434.1" r="2.3"/><circle cx="467.0" cy="436.9" r="2.3"/><circle cx="473.6" cy="425.6" r="2.3"/><circle cx="475.4" cy="423.8" r="2.3"/><circle cx="474.5" cy="420.5" r="2.3"/><circle cx="478.3" cy="421.9" r="2.3"/><circle cx="482.0" cy="420.5" r="2.3"/><circle cx="486.2" cy="424.5" r="2.3"/><circle cx="482.5" cy="416.7" r="2.3"/><circle cx="475.4" cy="418.6" r="2.3"/><circle cx="468.9" cy="419.0" r="2.3"/><circle cx="492.3" cy="401.0" r="2.3"/><circle cx="491.4" cy="409.2" r="2.3"/><circle cx="519.6" cy="381.0" r="2.3"/><circle cx="527.6" cy="374.4" r="2.3"/><circle cx="519.6" cy="396.0" r="2.3"/><circle cx="527.6" cy="404.9" r="2.3"/><circle cx="537.7" cy="385.0" r="2.3"/><circle cx="537.7" cy="389.2" r="2.3"/><circle cx="549.0" cy="380.0" r="2.3"/><circle cx="554.8" cy="376.6" r="2.3"/><circle cx="492.3" cy="421.1" r="2.3"/><circle cx="549.2" cy="371.6" r="2.3"/><circle cx="554.8" cy="370.9" r="2.3"/><circle cx="596.2" cy="329.6" r="2.3"/><circle cx="598.7" cy="334.0" r="2.3"/><circle cx="622.0" cy="329.8" r="2.3"/><circle cx="617.1" cy="334.9" r="2.3"/><circle cx="617.1" cy="337.3" r="2.3"/><circle cx="584.0" cy="341.8" r="2.3"/><circle cx="596.2" cy="340.6" r="2.3"/><circle cx="596.2" cy="343.1" r="2.3"/><circle cx="604.2" cy="341.0" r="2.3"/><circle cx="604.6" cy="342.4" r="2.3"/><circle cx="608.4" cy="340.1" r="2.3"/><circle cx="598.7" cy="347.6" r="2.3"/><circle cx="596.2" cy="351.8" r="2.3"/><circle cx="592.4" cy="355.9" r="2.3"/><circle cx="583.0" cy="355.9" r="2.3"/><circle cx="584.0" cy="357.5" r="2.3"/><circle cx="573.0" cy="348.8" r="2.3"/><circle cx="573.0" cy="354.7" r="2.3"/><circle cx="561.4" cy="359.8" r="2.3"/><circle cx="561.9" cy="361.2" r="2.3"/><circle cx="621.5" cy="350.9" r="2.3"/><circle cx="621.5" cy="352.5" r="2.3"/><circle cx="622.0" cy="359.1" r="2.3"/><circle cx="626.2" cy="357.3" r="2.3"/><circle cx="583.0" cy="370.2" r="2.3"/><circle cx="592.7" cy="372.0" r="2.3"/><circle cx="608.4" cy="372.5" r="2.3"/><circle cx="561.9" cy="372.5" r="2.3"/><circle cx="629.5" cy="335.9" r="2.3"/><circle cx="629.5" cy="348.6" r="2.3"/><circle cx="562.3" cy="386.2" r="2.3"/><circle cx="627.5" cy="312.4" r="2.3"/><circle cx="625.8" cy="320.2" r="2.3"/><circle cx="695.8" cy="291.0" r="2.3"/><circle cx="692.3" cy="301.6" r="2.3"/><circle cx="692.3" cy="306.7" r="2.3"/><circle cx="680.7" cy="303.4" r="2.3"/><circle cx="680.7" cy="304.8" r="2.3"/><circle cx="661.0" cy="297.3" r="2.3"/><circle cx="664.3" cy="295.9" r="2.3"/><circle cx="664.8" cy="298.7" r="2.3"/><circle cx="664.6" cy="301.8" r="2.3"/><circle cx="657.7" cy="301.6" r="2.3"/><circle cx="657.7" cy="303.9" r="2.3"/><circle cx="656.8" cy="310.5" r="2.3"/><circle cx="661.5" cy="311.4" r="2.3"/><circle cx="649.7" cy="312.4" r="2.3"/><circle cx="651.8" cy="314.2" r="2.3"/><circle cx="657.1" cy="314.9" r="2.3"/><circle cx="667.8" cy="315.8" r="2.3"/><circle cx="644.6" cy="324.1" r="2.3"/><circle cx="655.6" cy="325.0" r="2.3"/><circle cx="644.6" cy="337.5" r="2.3"/><circle cx="657.9" cy="338.2" r="2.3"/><circle cx="667.8" cy="339.2" r="2.3"/><circle cx="644.1" cy="349.3" r="2.3"/><circle cx="649.9" cy="359.1" r="2.3"/><circle cx="644.2" cy="326.6" r="2.3"/><circle cx="558.8" cy="362.4" r="2.3"/><text transform="translate(420.60 276.40) scale(1.0 1.0)" font-size="16.5" font-weight="bold" text-anchor="start" fill="#000">d</text><text transform="translate(572.00 493.90) scale(1.048 1.12)" font-size="7.45" font-weight="bold" stroke="#262626" stroke-width="0.2" text-anchor="middle" fill="#262626">Measured&#160; moisture content (%)</text><text transform="translate(386.4 366.6) rotate(-90) scale(1 1.08)" font-size="7.45" font-weight="bold" text-anchor="middle" fill="#262626" stroke="#262626" stroke-width="0.2">Predicted moisture content (%)</text></g>
</svg></body></html>
